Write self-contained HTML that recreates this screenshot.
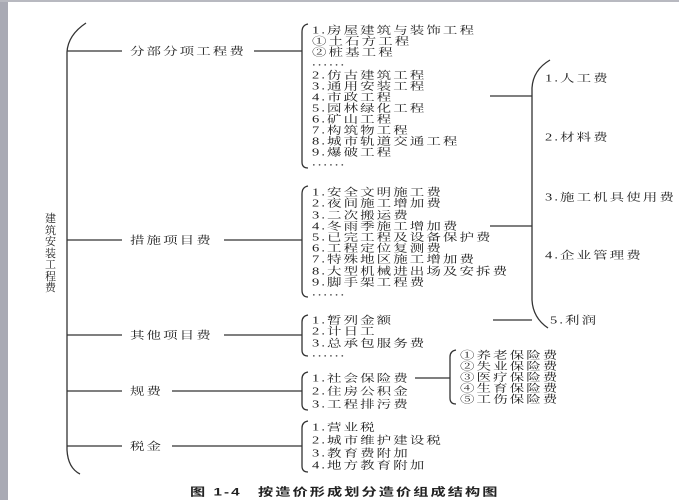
<!DOCTYPE html>
<html><head><meta charset="utf-8"><style>
html,body{margin:0;padding:0;background:#fff}
#w{position:relative;width:679px;height:500px;overflow:hidden}
svg{position:absolute;left:0;top:0}
.t{position:absolute;font-family:"Liberation Serif","Noto Serif CJK SC","Noto Sans CJK SC",serif;font-size:10.5px;color:#222;letter-spacing:1.5px;line-height:12px;white-space:nowrap;transform:translateY(-4.5px) scaleX(1.38);transform-origin:0 50%}
.c{font-family:"Liberation Sans","Noto Sans CJK SC",sans-serif;font-weight:bold;font-size:11px}
.v{position:absolute;left:45px;top:213px;font-family:"Noto Serif CJK SC","Noto Sans CJK SC",serif;font-size:11px;line-height:11.5px;width:12px;color:#222}
</style></head><body><div id="w">
<svg width="679" height="500" viewBox="0 0 679 500">
<rect x="0" y="0" width="8" height="500" fill="#a9aab4"/>
<rect x="0" y="0" width="679" height="2" fill="#b8b9c0"/>
<g stroke="#333" stroke-width="1.3" fill="none">
<path d="M86,23 Q68,35 67,52 L67,450 Q68,468 80,474"/>
<line x1="67" y1="51" x2="122" y2="51"/><line x1="254" y1="51" x2="302" y2="51"/>
<line x1="67" y1="240" x2="122" y2="240"/><line x1="224" y1="240" x2="302" y2="240"/>
<line x1="67" y1="335" x2="122" y2="335"/><line x1="224" y1="335" x2="302" y2="335"/>
<line x1="67" y1="391" x2="122" y2="391"/><line x1="172" y1="391" x2="302" y2="391"/>
<line x1="67" y1="446" x2="122" y2="446"/><line x1="172" y1="446" x2="302" y2="446"/>
<path d="M308,24 Q302,25 302,32 L302,162 Q302,168 308,168"/>
<path d="M308,186 Q302,187 302,194 L302,290 Q302,297 308,297"/>
<path d="M308,315 Q302,316 302,322 L302,350 Q302,356 308,356"/>
<path d="M308,372 Q302,373 302,379 L302,404 Q302,410 308,410"/>
<path d="M308,421 Q302,422 302,428 L302,466 Q302,472 308,472"/>
<path d="M456,350 Q450,351 450,357 L450,398 Q450,404 456,404"/>
<line x1="415" y1="378" x2="450" y2="378"/>
<path d="M550,60 Q533,70 532,88 L532,300 Q533,318 548,328"/>
<line x1="490" y1="96" x2="532" y2="96"/>
<line x1="490" y1="226" x2="532" y2="226"/>
<line x1="493" y1="320" x2="532" y2="320"/>
</g>
</svg>
<div class="v">建<br>筑<br>安<br>装<br>工<br>程<br>费</div>

<div class="t" style="left:130px;top:51px">分部分项工程费</div>
<div class="t" style="left:130px;top:240px">措施项目费</div>
<div class="t" style="left:130px;top:335px">其他项目费</div>
<div class="t" style="left:130px;top:391px">规费</div>
<div class="t" style="left:130px;top:446px">税金</div>

<div class="t" style="left:312px;top:30px">1.房屋建筑与装饰工程</div>
<div class="t" style="left:312px;top:41px">①土石方工程</div>
<div class="t" style="left:312px;top:52px">②桩基工程</div>
<div class="t" style="left:312px;top:62px">......</div>
<div class="t" style="left:312px;top:75px">2.仿古建筑工程</div>
<div class="t" style="left:312px;top:86px">3.通用安装工程</div>
<div class="t" style="left:312px;top:97px">4.市政工程</div>
<div class="t" style="left:312px;top:108px">5.园林绿化工程</div>
<div class="t" style="left:312px;top:119px">6.矿山工程</div>
<div class="t" style="left:312px;top:130px">7.构筑物工程</div>
<div class="t" style="left:312px;top:141px">8.城市轨道交通工程</div>
<div class="t" style="left:312px;top:152px">9.爆破工程</div>
<div class="t" style="left:312px;top:162px">......</div>

<div class="t" style="left:312px;top:192px">1.安全文明施工费</div>
<div class="t" style="left:312px;top:203px">2.夜间施工增加费</div>
<div class="t" style="left:312px;top:215px">3.二次搬运费</div>
<div class="t" style="left:312px;top:226px">4.冬雨季施工增加费</div>
<div class="t" style="left:312px;top:237px">5.已完工程及设备保护费</div>
<div class="t" style="left:312px;top:248px">6.工程定位复测费</div>
<div class="t" style="left:312px;top:259px">7.特殊地区施工增加费</div>
<div class="t" style="left:312px;top:271px">8.大型机械进出场及安拆费</div>
<div class="t" style="left:312px;top:282px">9.脚手架工程费</div>
<div class="t" style="left:312px;top:292px">......</div>

<div class="t" style="left:312px;top:320px">1.暂列金额</div>
<div class="t" style="left:312px;top:331px">2.计日工</div>
<div class="t" style="left:312px;top:343px">3.总承包服务费</div>
<div class="t" style="left:312px;top:353px">......</div>

<div class="t" style="left:312px;top:378px">1.社会保险费</div>
<div class="t" style="left:312px;top:391px">2.住房公积金</div>
<div class="t" style="left:312px;top:404px">3.工程排污费</div>

<div class="t" style="left:312px;top:427px">1.营业税</div>
<div class="t" style="left:312px;top:440px">2.城市维护建设税</div>
<div class="t" style="left:312px;top:453px">3.教育费附加</div>
<div class="t" style="left:312px;top:465px">4.地方教育附加</div>

<div class="t" style="left:460px;top:355px">①养老保险费</div>
<div class="t" style="left:460px;top:366px">②失业保险费</div>
<div class="t" style="left:460px;top:377px">③医疗保险费</div>
<div class="t" style="left:460px;top:388px">④生育保险费</div>
<div class="t" style="left:460px;top:399px">⑤工伤保险费</div>

<div class="t" style="left:545px;top:78px">1.人工费</div>
<div class="t" style="left:545px;top:137px">2.材料费</div>
<div class="t" style="left:545px;top:197px">3.施工机具使用费</div>
<div class="t" style="left:545px;top:255px">4.企业管理费</div>
<div class="t" style="left:550px;top:320px">5.利润</div>

<div class="t c" style="left:190px;top:491px">图 1-4</div>
<div class="t c" style="left:258px;top:491px">按造价形成划分造价组成结构图</div>
</div></body></html>
